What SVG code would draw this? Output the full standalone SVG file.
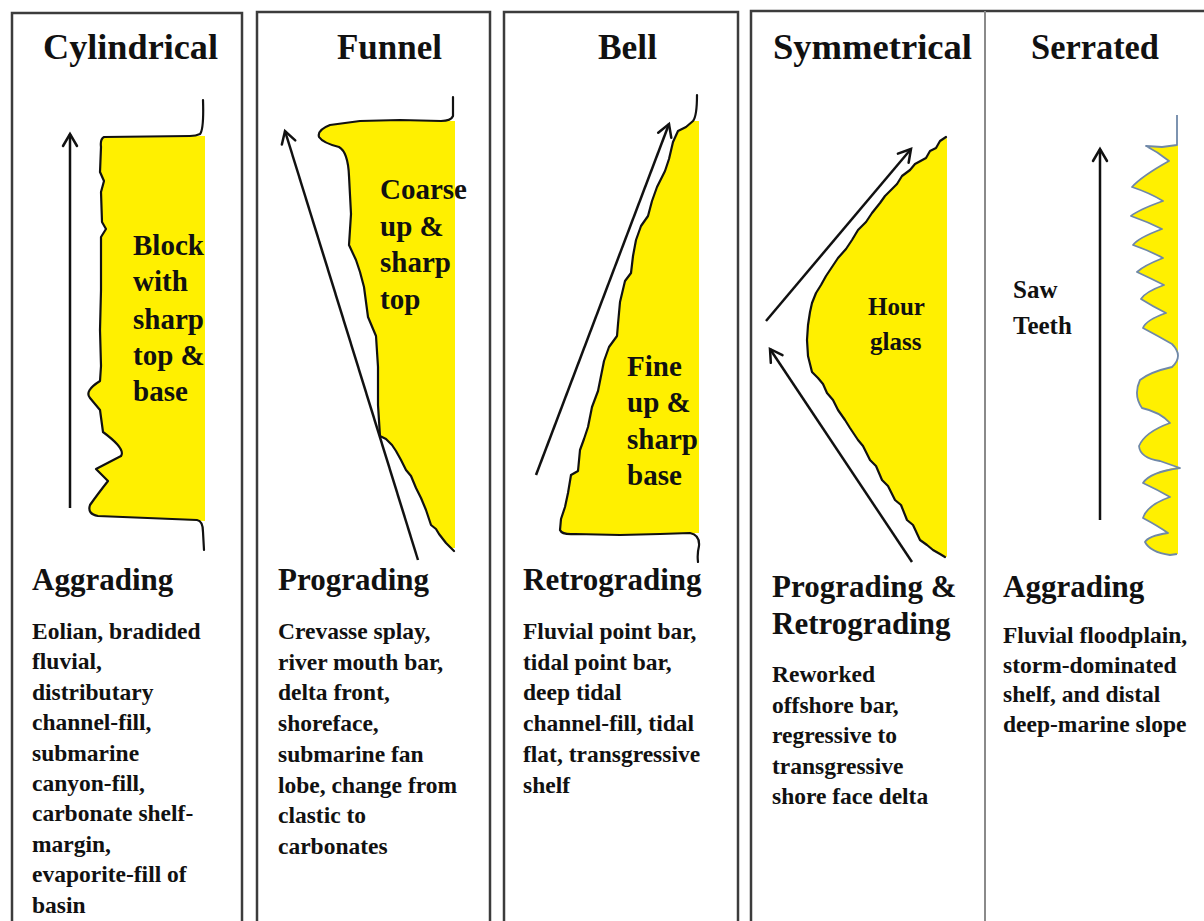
<svg xmlns="http://www.w3.org/2000/svg" width="1204" height="921" viewBox="0 0 1204 921">
<style>
.frame{fill:none;stroke:#3c3c3c;stroke-width:2.5}
.sep{stroke:#8a8a8a;stroke-width:2}
.t{font-family:"Liberation Serif","Times New Roman",serif;font-weight:bold;fill:#111}
.title{font-size:36px}
.head{font-size:31px}
.body{font-size:23.5px}
.lab{font-size:29px}
.lab2{font-size:25px}
.fill{fill:#FFF000;stroke:none}
.log{fill:none;stroke:#111;stroke-width:2.2;stroke-linejoin:round;stroke-linecap:round}
.serr{fill:none;stroke:#6f88a8;stroke-width:1.8;stroke-linejoin:round}
.arr{fill:none;stroke:#111;stroke-width:2.5;marker-end:url(#ah)}
</style>
<defs>
<marker id="ah" markerUnits="userSpaceOnUse" markerWidth="18" markerHeight="18" viewBox="0 0 18 18" refX="15" refY="9" orient="auto">
<path d="M3,2 L15,9 L3,16" fill="none" stroke="#111" stroke-width="2.5" stroke-linecap="round"/>
</marker>
</defs>
<rect width="1204" height="921" fill="#fff"/>

<g id="cylindrical">
<rect class="frame" x="12" y="13" width="230" height="940"/>
<text class="t title" x="43" y="59" textLength="175" lengthAdjust="spacingAndGlyphs">Cylindrical</text>
<path class="fill" d="M205,136 L104,137 Q100,139 101,147 L100,172 L104,181 L101,192 L102,222 L106,229 L101,237 L101,290 L100,330 L101,366 L100,381 Q84,391 90,398 L100,410 L103,432 Q126,449 121,456 L96,469 L108,481 Q97,495 90,505 Q87,514 98,516 L205,521 Z"/>
<path class="log" d="M203,100 Q204,129 200,134 Q196,136 190,136 L104,137 Q100,139 101,147 L100,172 L104,181 L101,192 L102,222 L106,229 L101,237 L101,290 L100,330 L101,366 L100,381 Q84,391 90,398 L100,410 L103,432 Q126,449 121,456 L96,469 L108,481 Q97,495 90,505 Q87,514 98,516 L197,520 Q203,521 203,532 L204,550"/>
<text class="t lab" x="133" y="255">Block</text>
<text class="t lab" x="133" y="291">with</text>
<text class="t lab" x="133" y="329">sharp</text>
<text class="t lab" x="133" y="365">top &amp;</text>
<text class="t lab" x="133" y="401">base</text>
<text class="t head" x="32" y="590">Aggrading</text>
<text class="t body" x="32" y="639">Eolian, bradided</text>
<text class="t body" x="32" y="669.4">fluvial,</text>
<text class="t body" x="32" y="699.8">distributary</text>
<text class="t body" x="32" y="730.2">channel-fill,</text>
<text class="t body" x="32" y="760.6">submarine</text>
<text class="t body" x="32" y="791">canyon-fill,</text>
<text class="t body" x="32" y="821.4">carbonate shelf-</text>
<text class="t body" x="32" y="851.8">margin,</text>
<text class="t body" x="32" y="882.2">evaporite-fill of</text>
<text class="t body" x="32" y="912.6">basin</text>
</g>

<g id="funnel">
<rect class="frame" x="257" y="12" width="233" height="940"/>
<text class="t title" x="337" y="59" textLength="105" lengthAdjust="spacingAndGlyphs">Funnel</text>
<path class="fill" d="M455,121 L441,121 L400,120 L360,121 L330,125 Q317,130 319,137 Q323,143 339,147 Q348,152 349,176 L351,214 L349,245 L356,260 L360,272 L364,287 L368,317 L376,336 L378,367 L378,405 L380,436 L386,439 L392,445 L396,451 L401,460 L406,470 L411,476 L416,488 L421,498 L426,510 L431,525 L436,529 L439,534 L446,543 L451,548 L455,548 Z"/>
<path class="log" d="M453,97 L453,116 Q451,121 441,121 L400,120 L360,121 L330,125 Q317,130 319,137 Q323,143 339,147 Q348,152 349,176 L351,214 L349,245 L356,260 L360,272 L364,287 L368,317 L376,336 L378,367 L378,405 L380,436 L386,439 L392,445 L396,451 L401,460 L406,470 L411,476 L416,488 L421,498 L426,510 L431,525 L436,529 L439,534 L446,543 L451,548 L454,551"/>
<text class="t lab" x="380" y="199">Coarse</text>
<text class="t lab" x="380" y="235.5">up &amp;</text>
<text class="t lab" x="380" y="272">sharp</text>
<text class="t lab" x="380" y="308.5">top</text>
<text class="t head" x="278" y="590">Prograding</text>
<text class="t body" x="278" y="639">Crevasse splay,</text>
<text class="t body" x="278" y="669.7">river mouth bar,</text>
<text class="t body" x="278" y="700.4">delta front,</text>
<text class="t body" x="278" y="731.1">shoreface,</text>
<text class="t body" x="278" y="761.8">submarine fan</text>
<text class="t body" x="278" y="792.5">lobe, change  from</text>
<text class="t body" x="278" y="823.2">clastic to</text>
<text class="t body" x="278" y="853.9">carbonates</text>
</g>

<g id="bell">
<rect class="frame" x="504" y="12" width="234" height="940"/>
<text class="t title" x="598" y="59" textLength="59" lengthAdjust="spacingAndGlyphs">Bell</text>
<path class="fill" d="M699,121 L693,121 L686,127 L678,131 L673,142 L669,159 L665,171 L657,187 L652,201 L648,216 L641,226 L636,240 L633,256 L631,273 L625,281 L620,302 L618,324 L617,336 L609,347 L604,361 L601,376 L598,391 L592,407 L588,427 L584,439 L580,450 L578,471 L571,475 L568,493 L565,507 L561,519 L560,530 Q562,535 575,534 L620,535 L660,534 L699,533 Z"/>
<path class="log" d="M697,95 Q697,116 693,121 L686,127 L678,131 L673,142 L669,159 L665,171 L657,187 L652,201 L648,216 L641,226 L636,240 L633,256 L631,273 L625,281 L620,302 L618,324 L617,336 L609,347 L604,361 L601,376 L598,391 L592,407 L588,427 L584,439 L580,450 L578,471 L571,475 L568,493 L565,507 L561,519 L560,530 Q562,535 575,534 L620,535 L660,534 L690,533 Q700,535 699,546 Q697,554 698,562"/>
<text class="t lab" x="627" y="376">Fine</text>
<text class="t lab" x="627" y="412">up &amp;</text>
<text class="t lab" x="627" y="449">sharp</text>
<text class="t lab" x="627" y="485">base</text>
<text class="t head" x="523" y="590">Retrograding</text>
<text class="t body" x="523" y="639">Fluvial point bar,</text>
<text class="t body" x="523" y="669.7">tidal point bar,</text>
<text class="t body" x="523" y="700.4">deep tidal</text>
<text class="t body" x="523" y="731.1">channel-fill, tidal</text>
<text class="t body" x="523" y="761.8">flat, transgressive</text>
<text class="t body" x="523" y="792.5">shelf</text>
</g>

<g id="symmetrical">
<rect class="frame" x="751" y="11" width="500" height="940"/>
<text class="t title" x="773" y="59" textLength="199" lengthAdjust="spacingAndGlyphs">Symmetrical</text>
<path class="fill" d="M947,138 L940,141 L936,148 L930,151 L926,158 L915,164 L910,170 L902,176 L897,184 L885,196 L880,203 L872,213 L866,222 L858,230 L852,240 L846,249 L838,258 L832,267 L826,276 L821,285 L816,293 L812,303 L810,312 L808,325 L807,340 L808,356 L812,372 L818,378 L823,384 L827,393 L833,400 L838,410 L845,420 L850,428 L858,440 L863,446 L870,460 L876,466 L882,480 L888,486 L895,500 L901,505 L907,520 L913,525 L920,540 L927,545 L933,550 L940,554 L947,557 Z"/>
<path class="log" d="M946,137 L940,141 L936,148 L930,151 L926,158 L915,164 L910,170 L902,176 L897,184 L885,196 L880,203 L872,213 L866,222 L858,230 L852,240 L846,249 L838,258 L832,267 L826,276 L821,285 L816,293 L812,303 L810,312 L808,325 L807,340 L808,356 L812,372 L818,378 L823,384 L827,393 L833,400 L838,410 L845,420 L850,428 L858,440 L863,446 L870,460 L876,466 L882,480 L888,486 L895,500 L901,505 L907,520 L913,525 L920,540 L927,545 L933,550 L940,554 L945,557"/>
<text class="t lab2" x="868" y="315">Hour</text>
<text class="t lab2" x="870" y="350">glass</text>
<text class="t head" x="772" y="597">Prograding &amp;</text>
<text class="t head" x="772" y="634">Retrograding</text>
<text class="t body" x="772" y="682">Reworked</text>
<text class="t body" x="772" y="712.5">offshore bar,</text>
<text class="t body" x="772" y="743">regressive to</text>
<text class="t body" x="772" y="773.5">transgressive</text>
<text class="t body" x="772" y="804">shore face delta</text>
</g>

<g id="serrated">
<line class="sep" x1="985" y1="11" x2="985" y2="921"/>
<text class="t title" x="1031" y="59" textLength="128" lengthAdjust="spacingAndGlyphs">Serrated</text>
<path class="fill" d="M1178,145 L1162,147 L1146,146 Q1158,152 1169,161 Q1142,176 1132,187 Q1150,193 1163,201 Q1138,210 1131,216 Q1148,222 1162,229 Q1138,238 1133,245 Q1150,251 1163,258 Q1143,266 1137,272 Q1152,279 1164,285 Q1145,292 1141,299 Q1152,306 1166,313 Q1146,320 1143,328 Q1158,336 1172,344 Q1184,356 1172,367 Q1150,372 1140,380 Q1133,395 1142,408 Q1160,412 1170,423 Q1145,432 1139,446 Q1140,458 1160,461 L1178,467 Q1150,472 1143,483 Q1158,490 1170,497 Q1147,505 1143,518 Q1158,526 1168,533 Q1148,536 1145,542 Q1150,552 1170,555 L1178,554 Z"/>
<path class="serr" d="M1177,115 L1177,145 L1162,147 L1146,146 Q1158,152 1169,161 Q1142,176 1132,187 Q1150,193 1163,201 Q1138,210 1131,216 Q1148,222 1162,229 Q1138,238 1133,245 Q1150,251 1163,258 Q1143,266 1137,272 Q1152,279 1164,285 Q1145,292 1141,299 Q1152,306 1166,313 Q1146,320 1143,328 Q1158,336 1172,344 Q1184,356 1172,367 Q1150,372 1140,380 Q1133,395 1142,408 Q1160,412 1170,423 Q1145,432 1139,446 Q1140,458 1160,461 L1180,468 Q1150,472 1143,483 Q1158,490 1170,497 Q1147,505 1143,518 Q1158,526 1168,533 Q1148,536 1145,542 Q1150,552 1170,555 L1177,554"/>
<text class="t lab2" x="1013" y="298">Saw</text>
<text class="t lab2" x="1013" y="334">Teeth</text>
<text class="t head" x="1003" y="597">Aggrading</text>
<text class="t body" x="1003" y="643">Fluvial floodplain,</text>
<text class="t body" x="1003" y="672.5">storm-dominated</text>
<text class="t body" x="1003" y="702">shelf, and distal</text>
<text class="t body" x="1003" y="731.5">deep-marine slope</text>
</g>

<g id="arrows">
<path class="arr" d="M70,508 L70,134"/>
<path class="arr" d="M418,560 L285,131"/>
<path class="arr" d="M536,475 L669,124"/>
<path class="arr" d="M766,321 L911,149"/>
<path class="arr" d="M912,562 L770,349"/>
<path class="arr" d="M1100,520 L1100,149"/>
</g>
</svg>
